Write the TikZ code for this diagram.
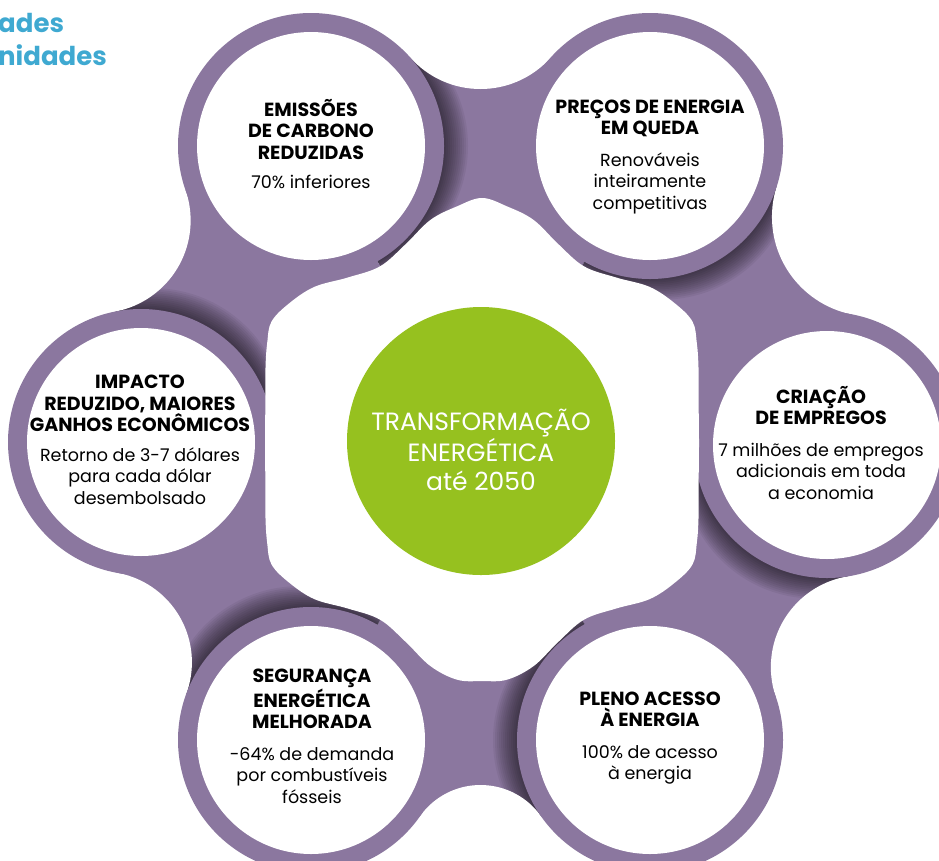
\documentclass[tikz,border=0pt]{standalone}
\usepackage{fontspec}
\setmainfont{Poppins}
\usetikzlibrary{calc}
\definecolor{pu}{HTML}{8B779F}
\definecolor{gr}{HTML}{96C11F}
\definecolor{bl}{HTML}{3FA9D1}
\newcommand{\hd}[1]{{\fontsize{19}{21.5}\selectfont\bfseries #1}}
\tikzset{
  txt/.style={align=center, text=black, inner sep=0pt, font=\fontsize{17.5}{21.5}\selectfont},
  ctxt/.style={align=center, text=white, inner sep=0pt, font=\fontsize{25}{29}\selectfont},
  ttl/.style={anchor=base west, text=bl, inner sep=0pt, font=\fontsize{26}{30}\selectfont\bfseries}
}
\begin{document}
\begin{tikzpicture}[x=1pt,y=-1pt]
\useasboundingbox (0,0) rectangle (939,860);
\clip (0,0) rectangle (939,860);
\def\Ro{133}
\def\Ri{114}
\coordinate (O) at (482,443);
\coordinate (TL) at (311,146);
\coordinate (TR) at (650,146);
\coordinate (R) at (827,445);
\coordinate (BR) at (650,740);
\coordinate (BL) at (311,740);
\coordinate (L) at (141,442);
\coordinate (G) at (481,441);
% bridges between neighbouring circles
\foreach \a/\b/\e in {TL/TR/57,TR/R/55,R/BR/53,BR/BL/45,BL/L/53,L/TL/55}{
  \coordinate (M) at ($(\a)!0.5!(\b)$);
  \path let \p1=($(\b)-(\a)$), \n1={veclen(\x1,\y1)/2},
            \n2={100*((\n1/100)^2+(\e/100)^2-(\Ro/100)^2)/(2*(\Ro-\e)/100)},
            \n3={\e+\n2} in
     coordinate (K) at ($(M)!\n3!90:(\b)$)
     coordinate (Q) at ($(K)+(\n2,0pt)$);
  \coordinate (T1) at ($(\a)!\Ro pt!(K)$);
  \coordinate (T2) at ($(\b)!\Ro pt!(K)$);
  \fill[pu] (O) -- (\a) -- (T1) -- (T2) -- (\b) -- cycle;
  \begin{scope}
    \clip (O) -- (\a) -- (T1) -- (T2) -- (\b) -- cycle;
    \foreach \k in {1,...,12}
      \fill[black,opacity=.055] ($(\a)!\k*2pt!(\b)$) circle[radius=\Ro pt];
  \end{scope}
  \fill[white] let \p1=($(Q)-(K)$) in (K) circle[radius=\x1];
}
% rings
\foreach \c in {TL,TR,R,BR,BL,L}{
  \fill[pu] (\c) circle[radius=\Ro pt];
}
% central white field
\begin{scope}[shift={(O)}]
\fill[white] plot[smooth cycle, tension=0.6] coordinates {
  (-25:237pt) (-19:229pt) (-10:220pt) (0:217pt) (10:220pt) (19:229pt) (25:237pt)
  (30:243pt)
  (36:238pt) (43:229pt) (51:213pt) (60:204pt) (69:213pt) (77:229pt) (84:238pt)
  (90:245pt)
  (96:238pt) (103:229pt) (111:213pt) (120:204pt) (129:213pt) (137:229pt) (144:238pt)
  (150:243pt)
  (155:237pt) (161:229pt) (170:220pt) (180:217pt) (190:220pt) (199:229pt) (205:237pt)
  (210:243pt)
  (216:238pt) (223:229pt) (231:213pt) (240:204pt) (249:213pt) (257:229pt) (264:238pt)
  (270:238pt)
  (276:238pt) (283:229pt) (291:213pt) (300:204pt) (309:213pt) (317:229pt) (324:238pt)
  (330:243pt)};
\end{scope}
\foreach \c in {TL,TR,R,BR,BL,L}{
  \fill[white] (\c) circle[radius=\Ri pt];
}
\fill[gr] (G) circle[radius=134pt];
% texts
\node[txt] (tTL) at (311,144) {\hd{EMISSÕES}\\\hd{DE CARBONO}\\\hd{REDUZIDAS}\\[8pt]70\% inferiores};
\node[txt] (tTR) at (650,157) {\hd{PREÇOS DE ENERGIA}\\\hd{EM QUEDA}\\[10pt]Renováveis\\inteiramente\\competitivas};
\node[txt] (tR) at (821,443) {\hd{CRIAÇÃO}\\\hd{DE EMPREGOS}\\[10pt]7 milhões de empregos\\adicionais em toda\\a economia};
\node[txt] (tBR) at (650,738) {\hd{PLENO ACESSO}\\\hd{À ENERGIA}\\[10pt]100\% de acesso\\à energia};
\node[txt] (tBL) at (312,736) {\hd{SEGURANÇA}\\\hd{ENERGÉTICA}\\\hd{MELHORADA}\\[10pt]-64\% de demanda\\por combustíveis\\fósseis};
\node[txt] (tL) at (140,440) {\hd{IMPACTO}\\\hd{REDUZIDO, MAIORES}\\\hd{GANHOS ECONÔMICOS}\\[8pt]Retorno de 3-7 dólares\\para cada dólar\\desembolsado};
\node[ctxt] (tG) at (481,450) {TRANSFORMAÇÃO\\ENERGÉTICA\\até 2050};
\node[ttl] (h1) at (-2,32) {ades};
\node[ttl] (h2) at (-2,65) {nidades};
\end{tikzpicture}
\end{document}
